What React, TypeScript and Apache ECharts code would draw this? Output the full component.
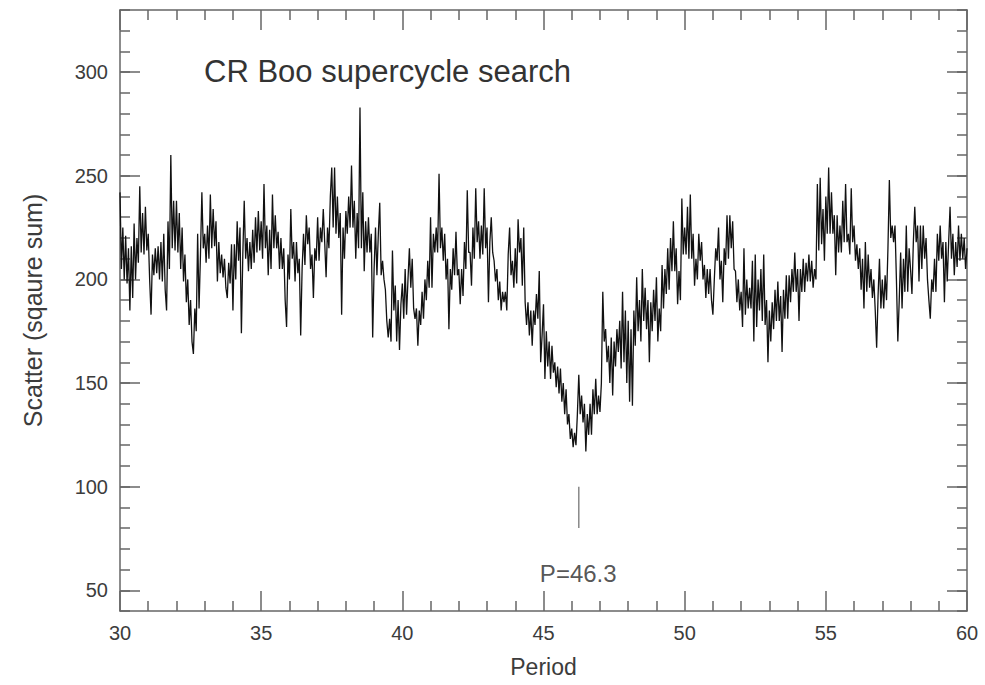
import React, { useEffect, useRef } from "react";
import * as echarts from "echarts";

// Period grid of the scan
const PERIOD_START = 30;
const PERIOD_STEP = 0.05;

// Scatter (square sum), one row per unit of period (20 samples each)
const scatterValues: number[] = [
  242, 205, 225, 200, 221, 198, 215, 185, 216, 191, 227, 200, 220, 208, 245, 213, 232, 212, 235, 214,
  222, 200, 183, 212, 202, 215, 203, 216, 200, 218, 199, 222, 195, 185, 228, 205, 260, 215, 238, 214,
  238, 213, 232, 205, 225, 199, 212, 189, 200, 178, 190, 170, 164, 186, 175, 222, 186, 212, 242, 215,
  222, 208, 226, 210, 241, 215, 234, 216, 228, 199, 218, 203, 212, 201, 210, 196, 191, 208, 198, 217,
  185, 217, 200, 228, 209, 225, 174, 212, 238, 210, 220, 204, 218, 205, 224, 208, 230, 213, 233, 214,
  228, 210, 246, 215, 226, 202, 224, 205, 241, 215, 231, 215, 223, 205, 220, 205, 215, 190, 177, 212,
  200, 234, 210, 218, 199, 218, 203, 210, 173, 205, 222, 207, 231, 217, 225, 205, 212, 191, 215, 209,
  230, 209, 225, 218, 234, 218, 201, 225, 215, 240, 254, 225, 254, 222, 240, 220, 232, 183, 225, 210,
  233, 222, 240, 225, 255, 225, 238, 210, 232, 215, 283, 215, 242, 204, 228, 213, 230, 213, 222, 172,
  205, 225, 202, 222, 237, 202, 209, 200, 195, 180, 172, 181, 170, 214, 185, 197, 170, 190, 166, 188,
  198, 181, 205, 183, 200, 215, 196, 210, 186, 181, 186, 168, 185, 178, 194, 181, 200, 190, 209, 196,
  230, 196, 222, 213, 225, 213, 251, 215, 225, 209, 222, 200, 210, 176, 205, 195, 215, 202, 223, 202,
  205, 188, 205, 192, 218, 205, 243, 213, 213, 197, 225, 210, 244, 218, 228, 210, 226, 212, 244, 215,
  225, 189, 218, 230, 213, 209, 199, 205, 190, 199, 185, 194, 189, 194, 185, 212, 225, 202, 209, 196,
  215, 198, 229, 213, 220, 197, 225, 189, 178, 189, 173, 185, 168, 185, 178, 193, 181, 204, 160, 173,
  188, 152, 175, 158, 170, 152, 168, 155, 160, 148, 158, 145, 157, 141, 150, 135, 147, 130, 135, 123,
  128, 119, 126, 120, 135, 154, 135, 144, 131, 140, 117, 135, 125, 140, 125, 147, 135, 152, 135, 144,
  136, 150, 194, 170, 176, 160, 168, 150, 172, 144, 170, 158, 176, 165, 180, 157, 194, 160, 185, 150,
  180, 141, 176, 139, 185, 168, 201, 175, 190, 170, 205, 180, 196, 176, 190, 160, 189, 175, 195, 180,
  201, 170, 186, 175, 207, 186, 205, 193, 215, 195, 220, 204, 228, 204, 215, 188, 204, 190, 239, 212,
  225, 212, 235, 210, 241, 210, 222, 197, 210, 200, 222, 209, 218, 200, 207, 191, 205, 193, 205, 190,
  183, 200, 215, 209, 225, 200, 209, 189, 215, 207, 231, 210, 231, 215, 228, 205, 204, 189, 200, 185,
  194, 177, 215, 183, 200, 186, 196, 186, 209, 170, 212, 177, 200, 185, 205, 180, 212, 178, 190, 160,
  185, 170, 189, 176, 195, 180, 199, 180, 192, 165, 195, 181, 202, 181, 202, 189, 205, 194, 213, 194,
  205, 180, 205, 194, 210, 194, 208, 199, 212, 199, 209, 196, 205, 200, 246, 214, 249, 217, 234, 209,
  240, 222, 254, 222, 242, 222, 231, 202, 231, 213, 226, 213, 238, 218, 246, 218, 222, 212, 244, 218,
  226, 209, 217, 205, 215, 195, 210, 186, 218, 194, 212, 196, 205, 191, 200, 185, 167, 192, 210, 186,
  200, 186, 202, 190, 215, 248, 220, 226, 218, 226, 200, 170, 190, 213, 186, 210, 194, 226, 194, 215,
  205, 193, 218, 235, 218, 226, 199, 226, 205, 226, 210, 220, 200, 190, 181, 200, 194, 210, 194, 222,
  209, 226, 210, 218, 189, 218, 199, 218, 235, 210, 222, 202, 218, 206, 226, 209, 222, 210, 220, 205,
  215,
];

// Axis ranges and ticks
const X_MIN = 30;
const X_MAX = 60;
const X_MAJOR = 5;
const Y_MIN = 40;
const Y_MAX = 330;
const Y_MINOR = 10;
const yMajorTicks = [50, 100, 150, 200, 250, 300];

// Annotation of the minimum
const bestPeriod = 46.25;
const markerSpan = [80, 100];
const bestLabel = "P=46.3";
const bestLabelPos = [46.23, 58];

const TITLE = "CR Boo supercycle search";
const X_NAME = "Period";
const Y_NAME = "Scatter (sqaure sum)";

const FONT = "'Liberation Sans', Arial, Helvetica, sans-serif";
const AXIS_COLOR = "#666";
const TEXT_COLOR = "#3c3c3c";

export default function App() {
  const ref = useRef<HTMLDivElement>(null);

  useEffect(() => {
    if (!ref.current) return;
    const chart = echarts.init(ref.current, null, { renderer: "svg" });
    const data = scatterValues.map((v, i) => [
      Math.round((PERIOD_START + i * PERIOD_STEP) * 100) / 100,
      v,
    ]);
    const gridRect = { left: 120, top: 10, right: 18, bottom: 74 };
    const axisLine = { show: true, onZero: false, lineStyle: { color: AXIS_COLOR, width: 1.5 } };
    const tickStyle = { color: AXIS_COLOR, width: 1.5 };

    const option: any = {
      animation: false,
      backgroundColor: "#ffffff",
      grid: [
        { ...gridRect },
        { ...gridRect },
      ],
      xAxis: [
        {
          gridIndex: 0,
          type: "value",
          position: "bottom",
          min: X_MIN,
          max: X_MAX,
          interval: X_MAJOR,
          axisLine,
          axisTick: { show: true, inside: true, length: 20, lineStyle: tickStyle },
          minorTick: { show: true, splitNumber: 5, length: 10, lineStyle: tickStyle },
          axisLabel: { color: TEXT_COLOR, fontSize: 20, margin: 12, fontFamily: FONT },
          splitLine: { show: false },
          minorSplitLine: { show: false },
          name: X_NAME,
          nameLocation: "middle",
          nameGap: 44,
          nameTextStyle: { color: TEXT_COLOR, fontSize: 23, fontFamily: FONT },
        },
        {
          gridIndex: 0,
          type: "value",
          position: "top",
          min: X_MIN,
          max: X_MAX,
          interval: X_MAJOR,
          axisLine,
          axisTick: { show: true, inside: true, length: 20, lineStyle: tickStyle },
          minorTick: { show: true, splitNumber: 5, length: 10, lineStyle: tickStyle },
          axisLabel: { show: false },
          splitLine: { show: false },
        },
        {
          gridIndex: 1,
          type: "value",
          min: X_MIN,
          max: X_MAX,
          show: false,
        },
      ],
      yAxis: [
        {
          gridIndex: 0,
          type: "value",
          position: "left",
          min: Y_MIN,
          max: Y_MAX,
          interval: Y_MINOR,
          axisLine,
          axisTick: { show: true, inside: true, length: 10, lineStyle: tickStyle },
          axisLabel: {
            color: TEXT_COLOR,
            fontSize: 20,
            margin: 12,
            fontFamily: FONT,
            formatter: (v: number) => (yMajorTicks.indexOf(v) >= 0 ? String(v) : ""),
          },
          splitLine: { show: false },
          name: Y_NAME,
          nameLocation: "middle",
          nameGap: 75,
          nameTextStyle: { color: TEXT_COLOR, fontSize: 25, fontFamily: FONT },
        },
        {
          gridIndex: 0,
          type: "value",
          position: "right",
          min: Y_MIN,
          max: Y_MAX,
          interval: Y_MINOR,
          axisLine,
          axisTick: { show: true, inside: true, length: 10, lineStyle: tickStyle },
          axisLabel: { show: false },
          splitLine: { show: false },
        },
        {
          gridIndex: 1,
          type: "value",
          position: "left",
          min: Y_MIN,
          max: Y_MAX,
          axisLine: { show: false },
          axisTick: { show: true, inside: true, length: 20, lineStyle: tickStyle, customValues: yMajorTicks },
          axisLabel: { show: false },
          splitLine: { show: false },
        },
        {
          gridIndex: 1,
          type: "value",
          position: "right",
          min: Y_MIN,
          max: Y_MAX,
          axisLine: { show: false },
          axisTick: { show: true, inside: true, length: 20, lineStyle: tickStyle, customValues: yMajorTicks },
          axisLabel: { show: false },
          splitLine: { show: false },
        },
      ],
      graphic: [
        {
          type: "text",
          left: 204,
          top: 56,
          style: {
            text: TITLE,
            fontSize: 31,
            fontFamily: FONT,
            fill: "#333",
          },
        },
      ],
      series: [
        {
          type: "line",
          xAxisIndex: 0,
          yAxisIndex: 0,
          data,
          showSymbol: false,
          symbol: "none",
          lineStyle: { color: "#111", width: 1.3 },
          silent: true,
        },
        {
          type: "line",
          xAxisIndex: 0,
          yAxisIndex: 0,
          data: [
            [bestPeriod, markerSpan[0]],
            [bestPeriod, markerSpan[1]],
          ],
          symbol: "none",
          lineStyle: { color: "#888", width: 1.5 },
          silent: true,
        },
        {
          type: "scatter",
          xAxisIndex: 0,
          yAxisIndex: 0,
          data: [bestLabelPos],
          symbolSize: 0,
          silent: true,
          label: {
            show: true,
            position: "inside",
            formatter: bestLabel,
            color: "#2a2a2a",
            fontSize: 24,
            fontFamily: FONT,
          },
        },
      ],
    };
    chart.setOption(option);
    return () => chart.dispose();
  }, []);

  return (
    <div
      ref={ref}
      style={{ position: "fixed", left: 0, top: 0, width: 985, height: 685, background: "#fff" }}
    />
  );
}
